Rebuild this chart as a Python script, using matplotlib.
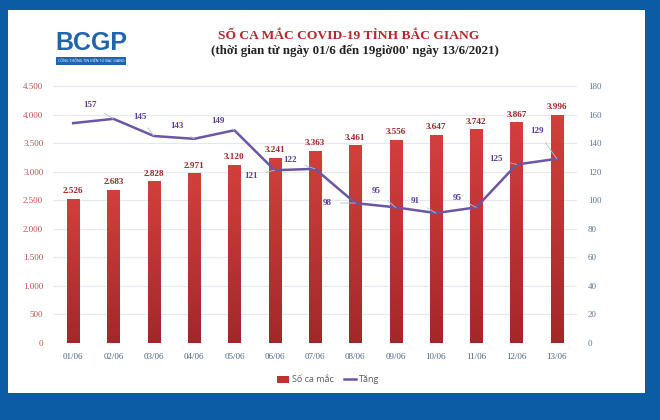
#!/usr/bin/env python3
"""
Bar + line chart: COVID-19 cases in Bac Giang, 01/06 - 13/06/2021
"""

import matplotlib.pyplot as plt
import numpy as np
from matplotlib.patches import Rectangle
from matplotlib.colors import LinearSegmentedColormap
from matplotlib.ticker import FuncFormatter

# data
dates = ['01/06', '02/06', '03/06', '04/06', '05/06', '06/06', '07/06',
         '08/06', '09/06', '10/06', '11/06', '12/06', '13/06']
cases = [2526, 2683, 2828, 2971, 3120, 3241, 3363,
         3461, 3556, 3647, 3742, 3867, 3996]
increase = [154, 157, 145, 143, 149, 121, 122, 98, 95, 91, 95, 125, 129]
# which points get a label (first point has none in the source)
label_increase = [False] + [True] * 12

title = 'SỐ CA MẮC COVID-19 TỈNH BẮC GIANG'
subtitle = "(thời gian từ ngày 01/6 đến 19giờ00' ngày 13/6/2021)"

BLUE_BG = '#0b5ca3'
BAR_RED = '#c3312f'
LINE_PURPLE = '#6c55a3'
LABEL_PURPLE = '#5a3c9c'

SERIF = ['Liberation Serif', 'DejaVu Serif']
SANS = ['Open Sans', 'DejaVu Sans']

bar_cmap = LinearSegmentedColormap.from_list('bar', ['#a3282a', '#d2403c'])


def dot_thousands(v, pos=None):
    return f'{int(v):,}'.replace(',', '.')


def main():
    fig = plt.figure(figsize=(6.6, 4.2), dpi=100)
    fig.patch.set_facecolor(BLUE_BG)

    # white panel
    fig.patches.append(Rectangle((8 / 660, 1 - 393 / 420), 637 / 660, 383 / 420,
                                 transform=fig.transFigure, facecolor='white',
                                 edgecolor='none', zorder=-5))

    # logo (text stand-in)
    fig.text(91 / 660, 1 - 43 / 420, 'BCGP', ha='center', va='center',
             fontsize=18, fontweight='bold', color='#1f64ae',
             family=['Liberation Sans', 'DejaVu Sans'])
    fig.text(91 / 660, 1 - 61 / 420, 'CỔNG THÔNG TIN ĐIỆN TỬ BẮC GIANG',
             ha='center', va='center', fontsize=2.6, color='white',
             family=SANS,
             bbox=dict(facecolor='#1f64ae', edgecolor='none', pad=1.2))

    fig.text(349 / 660, 1 - 36 / 420, title, ha='center', va='center',
             fontsize=9.7, fontweight='bold', color='#b8272a', family=SERIF)
    fig.text(355 / 660, 1 - 51 / 420, subtitle, ha='center', va='center',
             fontsize=9.3, fontweight='bold', color='#222222', family=SERIF)

    ax = fig.add_axes([53 / 660, 1 - 343 / 420, 524 / 660, 257 / 420])
    ax.set_facecolor('none')
    x = range(len(dates))

    bars = ax.bar(x, cases, width=0.3, color=BAR_RED, edgecolor='none',
                  linewidth=0, zorder=2, label='Số ca mắc')
    # vertical gradient fill, clipped to each bar
    grad = np.linspace(0, 1, 256).reshape(-1, 1)
    for b in bars:
        x0, w, h = b.get_x(), b.get_width(), b.get_height()
        im = ax.imshow(grad, cmap=bar_cmap, origin='lower', aspect='auto',
                       extent=[x0, x0 + w, 0, h], zorder=2.1)
        im.set_clip_path(b)
    for xi, v in zip(x, cases):
        ax.annotate(dot_thousands(v), (xi, v), xytext=(0, 5.5),
                    textcoords='offset points', ha='center', va='center',
                    fontsize=6.6, fontweight='bold', color='#a4252a',
                    family=SERIF)

    ax.set_ylim(0, 4500)
    ax.set_yticks(range(0, 4501, 500))
    ax.yaxis.set_major_formatter(FuncFormatter(dot_thousands))
    ax.set_xlim(-0.5, len(dates) - 0.5)
    ax.set_xticks(list(x))
    ax.set_xticklabels(dates)
    ax.grid(axis='y', color='#e4e9ef', linewidth=0.8, zorder=0)
    ax.set_axisbelow(True)
    for s in ax.spines.values():
        s.set_visible(False)
    ax.tick_params(axis='y', length=0, pad=7, labelsize=6.5, labelcolor='#c0504d')
    ax.tick_params(axis='x', length=0, pad=7, labelsize=6.5, labelcolor='#4d6584')
    for lbl in ax.get_xticklabels() + ax.get_yticklabels():
        lbl.set_family(SERIF)

    ax2 = ax.twinx()
    line, = ax2.plot(list(x), increase, color=LINE_PURPLE, linewidth=1.8,
                     zorder=3, label='Tăng')
    ax2.set_ylim(0, 180)
    ax2.set_yticks(range(0, 181, 20))
    for s in ax2.spines.values():
        s.set_visible(False)
    ax2.tick_params(axis='y', length=0, pad=8, labelsize=6.5, labelcolor='#5f7594')
    for lbl in ax2.get_yticklabels():
        lbl.set_family(SERIF)

    # label offsets (points) for the line values
    offsets = [(0, 0), (-17, 10), (-10, 14), (-12, 9), (-12, 7), (-17, -4),
               (-18, 6), (-20, 0), (-14, 12), (-15, 9), (-14, 7), (-15, 4),
               (-14, 20)]
    for xi, v, show, off in zip(x, increase, label_increase, offsets):
        if not show:
            continue
        ax2.annotate(str(v), (xi, v), xytext=off, textcoords='offset points',
                     ha='center', va='center', fontsize=6.5,
                     fontweight='bold', color=LABEL_PURPLE, family=SERIF,
                     arrowprops=dict(arrowstyle='-', color='#a9c3da',
                                     linewidth=0.6, shrinkA=4, shrinkB=0))

    fig.legend([bars, line], ['Số ca mắc', 'Tăng'], loc='center',
               bbox_to_anchor=(0.497, 1 - 380 / 420), ncol=2, frameon=False,
               prop={'family': SANS, 'size': 6.5}, labelcolor='#595959',
               handlelength=1.3, handletextpad=0.3, columnspacing=1.2)

    plt.savefig('out.png', dpi=100, facecolor=fig.get_facecolor())
    plt.close()


if __name__ == "__main__":
    main()
